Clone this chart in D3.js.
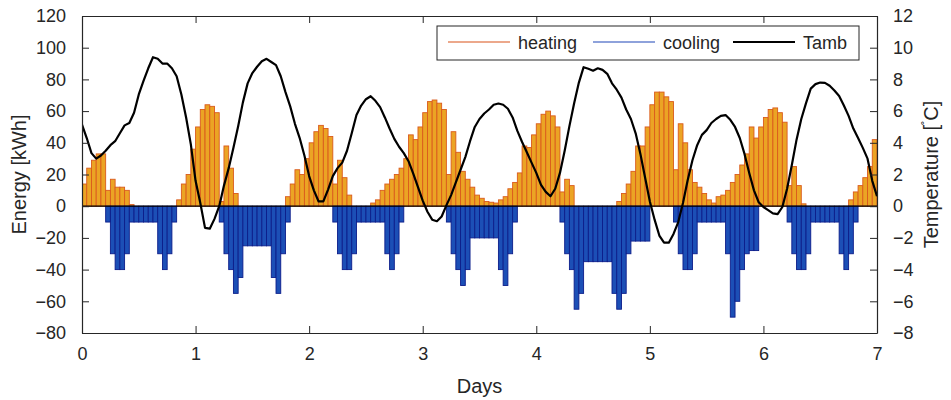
<!DOCTYPE html>
<html>
<head>
<meta charset="utf-8">
<script src="https://cdn.jsdelivr.net/npm/d3@7"></script>
<style>
body { margin: 0; background: #fff; }
text { font-family: "Liberation Sans", Arial, sans-serif; fill: #262626; }
</style>
</head>
<body>
<svg id="chart" width="951" height="400"></svg>
<script>
"use strict";

var dayTicks = [0, 1, 2, 3, 4, 5, 6, 7];
var energyTicks = [-80, -60, -40, -20, 0, 20, 40, 60, 80, 100, 120];
var tempTicks = [-8, -6, -4, -2, 0, 2, 4, 6, 8, 10, 12];

// hourly heating energy [kWh], one row per day
var heating = [
    14, 24, 29, 33, 33, 10, 17, 12, 12, 10, 1, 0, 0, 0, 0, 0, 0, 0, 0, 0, 4, 14, 20, 36,
    50, 61, 64, 63, 59, 3, 38, 24, 8, 0, 0, 0, 0, 0, 0, 0, 0, 0, 0, 6, 14, 23, 20, 30,
    40, 47, 51, 49, 44, 14, 29, 18, 7, 0, 0, 0, 0, 2, 4, 10, 14, 17, 20, 24, 30, 45, 42, 50,
    59, 66, 67, 65, 61, 20, 47, 34, 22, 17, 12, 7, 5, 3, 2.5, 2, 4, 6, 11, 15, 21, 38, 37, 45,
    52, 58, 60, 57, 50, 9, 17, 13, 0, 0, 0, 0, 0, 0, 0, 0, 0, 3, 8, 14, 22, 38, 38, 50,
    64, 72, 72, 69, 66, 23, 52, 40, 23, 15, 12, 8, 4, 2, 6, 7, 10, 15, 20, 26, 33, 50, 43, 50,
    56, 61, 62, 59, 53, 13, 25, 13, 1.5, 0, 0, 0, 0, 0, 0, 0, 0, 0, 4, 9, 13, 18, 25, 42
];

// hourly cooling energy [kWh]
var cooling = [
    0, 0, 0, 0, 0, -10, -30, -40, -40, -30, -10, -10, -10, -10, -10, -10, -30, -40, -30, -10, 0, 0, 0, 0,
    0, 0, 0, 0, 0, -10, -30, -40, -55, -45, -25, -25, -25, -25, -25, -25, -45, -55, -30, -10, 0, 0, 0, 0,
    0, 0, 0, 0, 0, -10, -30, -40, -40, -30, -10, -10, -10, -10, -10, -10, -30, -40, -30, -10, 0, 0, 0, 0,
    0, 0, 0, 0, 0, -10, -30, -40, -50, -40, -20, -20, -20, -20, -20, -20, -40, -50, -30, -10, 0, 0, 0, 0,
    0, 0, 0, 0, 0, -10, -30, -40, -65, -55, -35, -35, -35, -35, -35, -35, -55, -65, -55, -30, -22, -22, -22, -22,
    0, 0, 0, 0, 0, -10, -30, -40, -40, -30, -10, -10, -10, -10, -10, -10, -30, -70, -60, -40, -30, -28, -28, 0,
    0, 0, 0, 0, 0, -10, -30, -40, -40, -30, -10, -10, -10, -10, -10, -10, -30, -40, -30, -10, 0, 0, 0, 0
];

// ambient temperature [C], hour 0 .. 168
var tamb = [
    5.15, 4.3, 3.35, 3.0, 3.2, 3.5, 3.85, 4.1, 4.6, 5.1, 5.25, 5.9, 7.05, 7.9, 8.7, 9.4, 9.3, 9.0, 9.0, 8.7, 8.2, 7.05, 5.6, 3.9,
    1.6, 0.2, -1.37, -1.42, -0.8, 0.0, 1.3, 2.4, 3.68, 5.05, 6.55, 7.75, 8.4, 8.8, 9.15, 9.3, 9.1, 8.9, 8.2, 7.2, 6.3, 5.2, 4.3, 3.2,
    1.9, 1.0, 0.3, 0.3, 1.05, 1.9, 2.4, 2.75, 3.5, 4.6, 5.75, 6.35, 6.75, 6.94, 6.65, 6.25, 5.6, 4.9, 4.25, 3.75, 3.35, 2.84, 2.05, 1.2,
    0.35, -0.35, -0.85, -0.95, -0.65, 0.05, 0.7, 1.5, 2.3, 3.1, 4.1, 5.0, 5.5, 5.85, 6.1, 6.4, 6.48, 6.4, 6.15, 5.6, 4.75, 4.05, 3.4, 2.75,
    2.1, 1.35, 0.9, 0.63, 1.1, 2.1, 3.5, 5.05, 6.5, 7.8, 8.77, 8.67, 8.55, 8.7, 8.6, 8.35, 7.75, 7.35, 6.85, 6.1, 5.5, 4.6, 3.3, 1.8,
    0.3, -0.85, -1.85, -2.3, -2.3, -1.75, -1.0, 0.2, 1.65, 2.9, 3.85, 4.5, 4.8, 5.25, 5.5, 5.7, 5.75, 5.45, 5.0, 4.3, 3.3, 2.1, 1.0, 0.25,
    -0.05, -0.25, -0.45, -0.5, -0.05, 1.1, 2.6, 4.2, 5.5, 6.5, 7.42, 7.7, 7.8, 7.78, 7.6, 7.3, 6.95, 6.35, 5.7, 4.9, 4.3, 3.68, 3.0, 1.6,
    0.63
];

var legendNames = ["heating", "cooling", "Tamb"];
var legendColors = ["#D95319", "#1F47B8", "#000000"];

function main(){
    var svg = d3.select("#chart");
    var left = 82, right = 877, top = 16, bottom = 333;

    var x = d3.scaleLinear().domain([0, 7]).range([left, right]);
    var yE = d3.scaleLinear().domain([-80, 120]).range([bottom, top]);
    var yT = d3.scaleLinear().domain([-8, 12]).range([bottom, top]);

    svg.append("clipPath").attr("id", "plotClip")
        .append("rect").attr("x", left).attr("y", top).attr("width", right - left).attr("height", bottom - top);

    var plot = svg.append("g").attr("clip-path", "url(#plotClip)");

    var hours = d3.range(heating.length);

    plot.append("g").selectAll("rect").data(hours.filter(function(i){ return heating[i] > 0; }))
        .enter().append("rect")
        .attr("x", function(i){ return x(i / 24); })
        .attr("width", function(i){ return x((i + 1) / 24) - x(i / 24); })
        .attr("y", function(i){ return yE(heating[i]); })
        .attr("height", function(i){ return yE(0) - yE(heating[i]); })
        .attr("fill", "#EBA424")
        .attr("stroke", "#DA5A1C")
        .attr("stroke-width", 0.9);

    plot.append("g").selectAll("rect").data(hours.filter(function(i){ return cooling[i] < 0; }))
        .enter().append("rect")
        .attr("x", function(i){ return x(i / 24); })
        .attr("width", function(i){ return x((i + 1) / 24) - x(i / 24); })
        .attr("y", yE(0))
        .attr("height", function(i){ return yE(cooling[i]) - yE(0); })
        .attr("fill", "#1C4FB6")
        .attr("stroke", "#0C1D8A")
        .attr("stroke-width", 0.9);

    // bar baseline
    plot.append("line")
        .attr("x1", left).attr("x2", right)
        .attr("y1", yE(0)).attr("y2", yE(0))
        .attr("stroke", "#000").attr("stroke-width", 1.2);

    var line = d3.line()
        .x(function(d, i){ return x(i / 24); })
        .y(function(d){ return yT(d); });

    plot.append("path").datum(tamb)
        .attr("d", line)
        .attr("fill", "none")
        .attr("stroke", "#000")
        .attr("stroke-width", 2.2)
        .attr("stroke-linejoin", "round");

    // axes, ticks inward like matlab
    var axisColor = "#262626";
    svg.append("g").attr("transform", "translate(" + left + ",0)")
        .call(d3.axisLeft(yE).tickValues(energyTicks).tickSizeInner(-7).tickSizeOuter(0).tickPadding(16))
        .call(styleAxis);
    svg.append("g").attr("transform", "translate(" + right + ",0)")
        .call(d3.axisRight(yT).tickValues(tempTicks).tickSizeInner(-7).tickSizeOuter(0).tickPadding(16))
        .call(styleAxis);
    svg.append("g").attr("transform", "translate(0," + bottom + ")")
        .call(d3.axisBottom(x).tickValues(dayTicks).tickFormat(d3.format("d")).tickSizeInner(-7).tickSizeOuter(0).tickPadding(14))
        .call(styleAxis);
    svg.append("g").attr("transform", "translate(0," + top + ")")
        .call(d3.axisTop(x).tickValues(dayTicks).tickFormat("").tickSizeInner(-7).tickSizeOuter(0))
        .call(styleAxis);

    function styleAxis(g){
        g.select(".domain").attr("stroke", axisColor).attr("stroke-width", 1.2);
        g.selectAll(".tick line").attr("stroke", axisColor).attr("stroke-width", 1);
        g.selectAll(".tick text").attr("font-size", 18).style("fill", axisColor)
            .attr("font-family", "'Liberation Sans', Arial, sans-serif");
    }

    svg.append("text")
        .attr("x", (left + right) / 2).attr("y", 393)
        .attr("text-anchor", "middle").attr("font-size", 20)
        .text("Days");

    svg.append("text")
        .attr("transform", "translate(26," + ((top + bottom) / 2) + ") rotate(-90)")
        .attr("text-anchor", "middle").attr("font-size", 20)
        .text("Energy [kWh]");

    var tLabel = svg.append("text")
        .attr("transform", "translate(938," + ((top + bottom) / 2) + ") rotate(-90)")
        .attr("text-anchor", "middle").attr("font-size", 20);
    tLabel.append("tspan").text("Temperature [");
    tLabel.append("tspan").attr("baseline-shift", "super").attr("font-size", 13).text("\u02DA");
    tLabel.append("tspan").text("C]");

    // legend
    var lg = svg.append("g");
    lg.append("rect")
        .attr("x", 437).attr("y", 26).attr("width", 422).attr("height", 34)
        .attr("fill", "#fff").attr("stroke", axisColor).attr("stroke-width", 1);
    var entryX = [448, 593, 733];
    legendNames.forEach(function(name, k){
        lg.append("line")
            .attr("x1", entryX[k]).attr("x2", entryX[k] + 62)
            .attr("y1", 42).attr("y2", 42)
            .attr("stroke", legendColors[k])
            .attr("stroke-width", k === 2 ? 2.2 : 1.2);
        lg.append("text")
            .attr("x", entryX[k] + 70).attr("y", 49)
            .attr("font-size", 18)
            .text(name);
    });
}

main();
</script>
</body>
</html>
